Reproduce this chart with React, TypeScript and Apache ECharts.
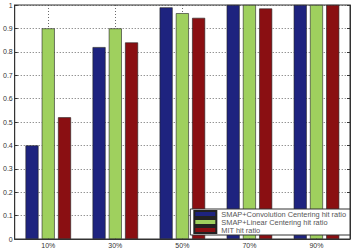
import React, { useEffect, useRef } from "react";
import * as echarts from "echarts";

const categories = ["10%", "30%", "50%", "70%", "90%"];
const convolution = [0.40, 0.82, 0.99, 1.0, 1.0];
const linear = [0.90, 0.90, 0.965, 1.0, 1.0];
const mit = [0.52, 0.84, 0.945, 0.985, 1.0];
const seriesNames = [
  "SMAP+Convolution Centering hit ratio",
  "SMAP+Linear Centering hit ratio",
  "MIT hit ratio",
];
const colors = ["#1e237f", "#9fd05e", "#8a0f12"];

export default function App() {
  const ref = useRef<HTMLDivElement>(null);
  useEffect(() => {
    if (!ref.current) return;
    const chart = echarts.init(ref.current, null, { renderer: "svg" });
    const font = "'Liberation Sans', Arial, sans-serif";
    const mk = (name: string, data: number[], color: string) => ({
      name,
      type: "bar",
      data,
      barWidth: 13,
      barGap: "25%",
      itemStyle: { color, borderColor: "#222", borderWidth: 0.6 },
    });
    chart.setOption({
      animation: false,
      textStyle: { fontFamily: font },
      grid: {
        left: 13,
        right: 4,
        top: 5,
        bottom: 12,
        show: true,
        borderColor: "#333",
        borderWidth: 1,
        backgroundColor: "#fff",
      },
      legend: {
        orient: "vertical",
        right: 4,
        bottom: 16,
        itemWidth: 22,
        itemHeight: 6,
        itemGap: 0,
        padding: [1, 4, 1, 3],
        backgroundColor: "#fff",
        borderColor: "#333",
        borderWidth: 1,
        borderRadius: 0,
        icon: "rect",
        textStyle: { fontSize: 7.4, color: "#555", fontFamily: font, padding: [0, 0, 0, 0] },
        data: seriesNames,
      },
      xAxis: {
        type: "category",
        data: categories,
        axisLine: { lineStyle: { color: "#333" } },
        axisTick: { show: true, alignWithLabel: true, inside: true, length: 3, lineStyle: { color: "#333" } },
        axisLabel: { fontSize: 7, color: "#333", margin: 3 },
        splitLine: {
          show: true,
          alignWithLabel: true,
          lineStyle: { color: "#444", type: [1, 2], width: 0.8 },
        },
      },
      yAxis: [
        {
          type: "value",
          min: 0,
          max: 1,
          interval: 0.1,
          axisLine: { show: true, lineStyle: { color: "#333" } },
          axisTick: { show: true, inside: true, length: 3, lineStyle: { color: "#333" } },
          axisLabel: { fontSize: 7, color: "#333", margin: 2 },
          splitLine: { show: true, lineStyle: { color: "#444", type: [1, 2], width: 0.8 } },
        },
        {
          type: "value",
          min: 0,
          max: 1,
          interval: 0.1,
          position: "right",
          axisLine: { show: true, lineStyle: { color: "#333" } },
          axisTick: { show: true, inside: true, length: 3, lineStyle: { color: "#333" } },
          axisLabel: { show: false },
          splitLine: { show: false },
        },
      ],
      series: [
        mk(seriesNames[0], convolution, colors[0]),
        mk(seriesNames[1], linear, colors[1]),
        mk(seriesNames[2], mit, colors[2]),
      ],
    });
    return () => chart.dispose();
  }, []);
  return (
    <div
      ref={ref}
      style={{ position: "fixed", left: 0, top: 0, width: 354, height: 251, background: "#fff" }}
    />
  );
}
